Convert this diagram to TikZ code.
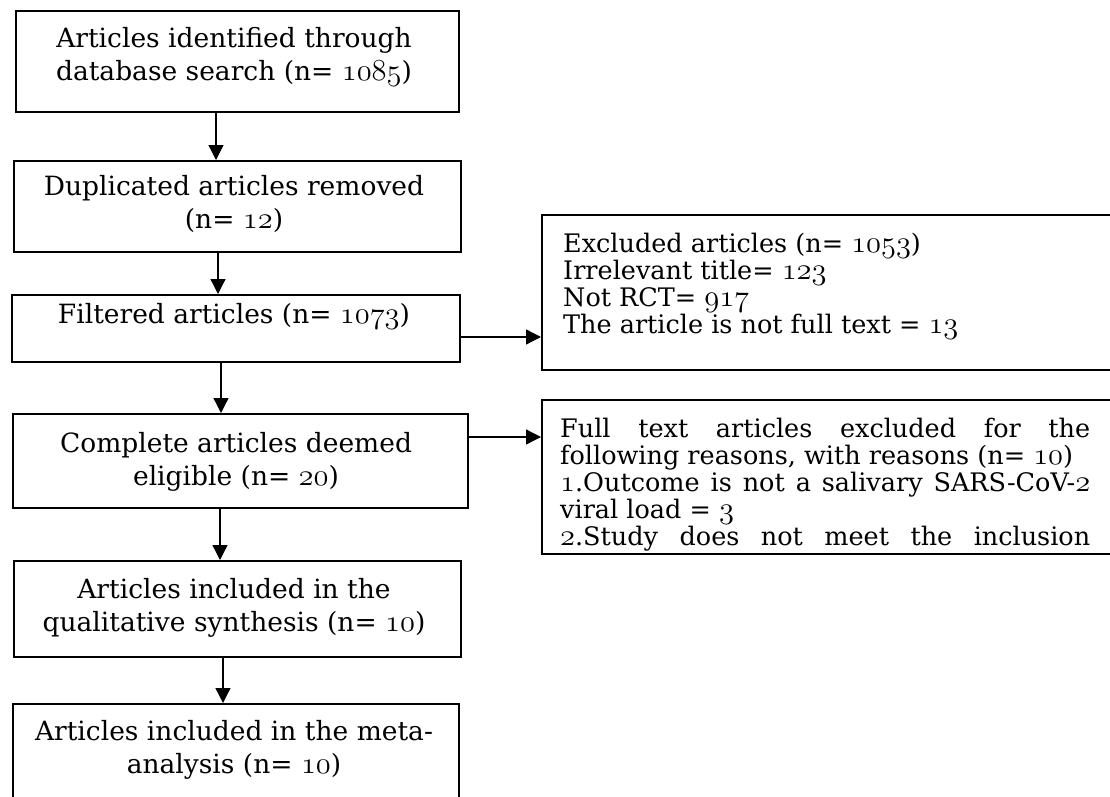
\documentclass[tikz,border=0pt]{standalone}
\usepackage{fix-cm}
\usepackage{fontspec}
\setmainfont{DejaVu Serif}
\usetikzlibrary{arrows.meta}
\newcommand\osn[1]{{\fontencoding{OML}\fontfamily{cmm}\fontseries{m}\fontshape{it}\fontsize{30.5}{30.5}\selectfont #1}}
\newcommand\ltxt[1]{\parbox[t]{430pt}{\centering #1}}
\newcommand\rtxt[1]{\parbox[t]{530pt}{\raggedright #1}}
\newcommand\jline[1]{\makebox[530pt][s]{#1}}
\tikzset{
  box/.style={draw, line width=1.8pt, inner sep=0pt, anchor=north west},
  lbl/.style={anchor=base, inner sep=0pt, font=\fontsize{26.5}{33}\selectfont},
  rlbl/.style={anchor=base west, inner sep=0pt, font=\fontsize{25.5}{27}\selectfont},
  arr/.style={line width=1.3pt, -{Triangle[length=15pt,width=15pt]}},
}
\begin{document}
\begin{tikzpicture}[x=1pt,y=-1pt]
\useasboundingbox (0,0) rectangle (1110,797);
\clip (0,0) rectangle (1110,797);
% left column boxes
\node[box, minimum width=443pt, minimum height=101pt] (b1) at (15,10) {};
\node[box, minimum width=447pt, minimum height=91pt] (b2) at (13,160) {};
\node[box, minimum width=448pt, minimum height=67pt] (b3) at (11,294) {};
\node[box, minimum width=455pt, minimum height=94pt] (b4) at (12,413) {};
\node[box, minimum width=447pt, minimum height=96pt] (b5) at (13,560) {};
\node[box, minimum width=446pt, minimum height=140pt] (b6) at (12,703) {};
% right column boxes
\node[box, minimum width=600pt, minimum height=155pt] (e1) at (541,214) {};
\node[box, minimum width=600pt, minimum height=154pt] (e2) at (541,399) {};
% texts
\node[lbl] (t1) at (234,48) {\ltxt{Articles identified through\\database search (n= \osn{1085})}};
\node[lbl] (t2) at (234,195) {\ltxt{Duplicated articles removed\\(n= \osn{12})}};
\node[lbl] (t3) at (234,323) {\ltxt{Filtered articles (n= \osn{1073})}};
\node[lbl] (t4) at (236,452) {\ltxt{Complete articles deemed\\eligible (n= \osn{20})}};
\node[lbl] (t5) at (234,598) {\ltxt{Articles included in the\\qualitative synthesis (n= \osn{10})}};
\node[lbl] (t6) at (234,740) {\ltxt{Articles included in the meta-\\analysis (n= \osn{10})}};
\node[rlbl] (r1) at (563,252) {\rtxt{Excluded articles (n= \osn{1053})\\Irrelevant title= \osn{123}\\Not RCT= \osn{917}\\The article is not full text = \osn{13}}};
\begin{scope}
\clip (e2.north west) rectangle (e2.south east);
\node[rlbl] (r2) at (560,437) {\rtxt{\jline{Full text articles excluded for the}\\following reasons, with reasons (n= \osn{10})\\\jline{\osn{1}.Outcome is not a salivary SARS-CoV-\osn{2}}\\viral load = \osn{3}\\\jline{\osn{2}.Study does not meet the inclusion}}};
\end{scope}
% arrow guides
\coordinate (x1) at (216,0);
\coordinate (x2) at (218,0);
\coordinate (x3) at (221,0);
\coordinate (x4) at (220,0);
\coordinate (x5) at (223,0);
\coordinate (y1) at (0,337);
\coordinate (y2) at (0,437);
% connectors
\draw[arr] (b1.south -| x1) -- (b2.north -| x1);
\draw[arr] (b2.south -| x2) -- (b3.north -| x2);
\draw[arr] (b3.south -| x3) -- (b4.north -| x3);
\draw[arr] (b4.south -| x4) -- (b5.north -| x4);
\draw[arr] (b5.south -| x5) -- (b6.north -| x5);
\draw[arr] (b3.east |- y1) -- (e1.west |- y1);
\draw[arr] (b4.east |- y2) -- (e2.west |- y2);
\end{tikzpicture}
\end{document}
